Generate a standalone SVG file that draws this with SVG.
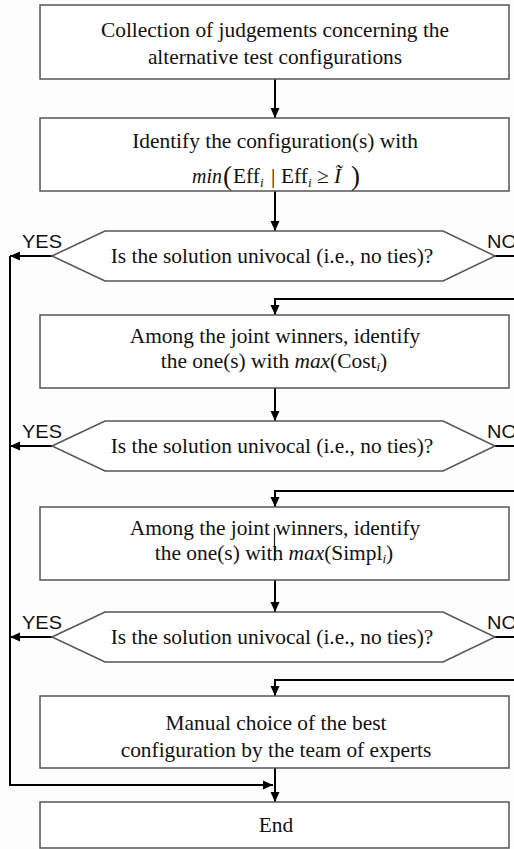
<svg xmlns="http://www.w3.org/2000/svg" width="514" height="849" viewBox="0 0 514 849">
<defs>
<style>
.box{fill:#fff;stroke:#555;stroke-width:1.5}
.hex{fill:#fff;stroke:#555;stroke-width:1.5}
.t{font-family:"Liberation Serif","Times New Roman",serif;font-size:21.4px;fill:#111;text-anchor:middle}
.f{font-family:"Liberation Serif","Times New Roman",serif;font-size:21.4px;fill:#111}
.lbl{font-family:"Liberation Sans",Arial,sans-serif;font-size:18px;fill:#111}
.c{fill:none;stroke:#000;stroke-width:2}
.it{font-style:italic}
.sub{font-size:13px}
</style>
<marker id="ah" viewBox="0 0 10 10" refX="10" refY="5" markerWidth="10" markerHeight="10" markerUnits="userSpaceOnUse" orient="auto"><path d="M0,0.5 L10,5 L0,9.5 z" fill="#000"/></marker>
</defs>
<rect width="514" height="849" fill="#fdfdfd"/>
<g id="connectors">
<line class="c" x1="275" y1="79" x2="275" y2="118" marker-end="url(#ah)"/>
<line class="c" x1="275" y1="191" x2="275" y2="231" marker-end="url(#ah)"/>
<line class="c" x1="52" y1="256" x2="10" y2="256" marker-end="url(#ah)"/>
<polyline class="c" points="495,256 516,256"/>
<polyline class="c" points="516,299 275,299 275,315" marker-end="url(#ah)"/>
<line class="c" x1="275" y1="388" x2="275" y2="421" marker-end="url(#ah)"/>
<line class="c" x1="52" y1="446" x2="10" y2="446" marker-end="url(#ah)"/>
<polyline class="c" points="495,446 516,446"/>
<polyline class="c" points="516,491 275,491 275,507" marker-end="url(#ah)"/>
<line class="c" x1="275" y1="580" x2="275" y2="612" marker-end="url(#ah)"/>
<line class="c" x1="52" y1="637" x2="10" y2="637" marker-end="url(#ah)"/>
<polyline class="c" points="495,637 516,637"/>
<polyline class="c" points="516,680 275,680 275,696" marker-end="url(#ah)"/>
<line class="c" x1="275" y1="768" x2="275" y2="802" marker-end="url(#ah)"/>
<polyline class="c" points="10,256 10,785 273,785" marker-end="url(#ah)"/>
</g>
<g id="n1">
<rect class="box" x="40" y="5" width="469" height="74"/>
<text class="t" x="275" y="36.5">Collection of judgements concerning the</text>
<text class="t" x="275" y="63.5">alternative test configurations</text>
</g>
<g id="n2">
<rect class="box" x="40" y="118" width="469" height="73"/>
<text class="t" x="275" y="147.5">Identify the configuration(s) with</text>
<text class="f" y="183"><tspan class="it" x="192" textLength="30" lengthAdjust="spacingAndGlyphs">min</tspan><tspan x="223" y="184.5" font-size="27">(</tspan><tspan x="233" y="183">Eff</tspan><tspan class="sub it" x="260" y="187">i</tspan><tspan x="271" y="183">|</tspan><tspan x="281">Eff</tspan><tspan class="sub it" x="308" y="187">i</tspan><tspan x="317" y="183">≥</tspan><tspan class="it" x="334">Ĩ</tspan><tspan x="351" y="184.5" font-size="27">)</tspan></text>
</g>
<g id="d1">
<polygon class="hex" points="52,256 105,231 443,231 495,256 443,281 105,281"/>
<text class="t" x="272" y="262.5">Is the solution univocal (i.e., no ties)?</text>
<text class="lbl" x="22" y="248" textLength="40" lengthAdjust="spacingAndGlyphs">YES</text>
<text class="lbl" x="487" y="248" textLength="30" lengthAdjust="spacingAndGlyphs">NO</text>
</g>
<g id="n3">
<rect class="box" x="40" y="315" width="469" height="73"/>
<text class="t" x="275" y="343">Among the joint winners, identify</text>
<text class="t" x="274" y="368">the one(s) with <tspan class="it">max</tspan>(Cost<tspan class="sub it" dy="3">i</tspan><tspan dy="-3">)</tspan></text>
</g>
<g id="d2">
<polygon class="hex" points="52,446 105,421 443,421 495,446 443,471 105,471"/>
<text class="t" x="272" y="452.5">Is the solution univocal (i.e., no ties)?</text>
<text class="lbl" x="22" y="438" textLength="40" lengthAdjust="spacingAndGlyphs">YES</text>
<text class="lbl" x="487" y="438" textLength="30" lengthAdjust="spacingAndGlyphs">NO</text>
</g>
<g id="n4">
<rect class="box" x="40" y="507" width="469" height="73"/>
<line x1="274.5" y1="528" x2="274.5" y2="561" stroke="#222" stroke-width="1.2"/>
<text class="t" x="275" y="535">Among the joint winners, identify</text>
<text class="t" x="274" y="560">the one(s) with <tspan class="it">max</tspan>(Simpl<tspan class="sub it" dy="3">i</tspan><tspan dy="-3">)</tspan></text>
</g>
<g id="d3">
<polygon class="hex" points="52,637 105,612 443,612 495,637 443,662 105,662"/>
<text class="t" x="272" y="643.5">Is the solution univocal (i.e., no ties)?</text>
<text class="lbl" x="22" y="629" textLength="40" lengthAdjust="spacingAndGlyphs">YES</text>
<text class="lbl" x="487" y="629" textLength="30" lengthAdjust="spacingAndGlyphs">NO</text>
</g>
<g id="n5">
<rect class="box" x="40" y="696" width="469" height="72"/>
<text class="t" x="276" y="730">Manual choice of the best</text>
<text class="t" x="276" y="757">configuration by the team of experts</text>
</g>
<g id="n6">
<rect class="box" x="40" y="802" width="469" height="46"/>
<text class="t" x="276" y="832">End</text>
</g>
</svg>
